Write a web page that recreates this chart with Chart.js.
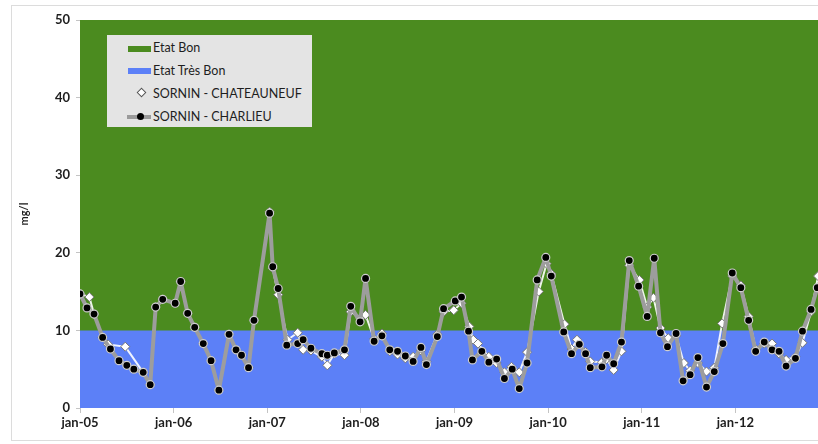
<!DOCTYPE html>
<html>
<head>
<meta charset="utf-8">
<script src="https://cdn.jsdelivr.net/npm/chart.js@4.4.1/dist/chart.umd.min.js"></script>
<style>
  body { margin: 0; background: #fff; }
  #wrap { position: relative; width: 818px; height: 444px; overflow: hidden; }
  #frame { position: absolute; left: 11px; top: 5px; width: 840px; height: 434px; border: 1px solid #dcdcdc; }
  #chart { position: absolute; left: 0; top: 0; }
  #legend { position: absolute; left: 107px; top: 35px; width: 205px; height: 92px; background: #e4e4e4;
            font-family: Lato, "Open Sans", sans-serif; font-size: 12.5px; color: #1e1e1e; }
  .item { position: absolute; left: 46px; line-height: 14px; white-space: nowrap; }
  .mk { position: absolute; }
</style>
</head>
<body>
<div id="wrap">
  <div id="frame"></div>
  <canvas id="chart" width="840" height="444"></canvas>
  <div id="legend">
    <div class="mk" style="left:21px;top:11px;width:23px;height:6px;background:#4b8b1f"></div>
    <div class="item" style="top:6px">Etat Bon</div>
    <div class="mk" style="left:21px;top:33px;width:23px;height:6px;background:#5c80f7"></div>
    <div class="item" style="top:29px">Etat Très Bon</div>
    <div class="mk" style="left:31px;top:54px;width:5px;height:5px;background:#fff;border:1px solid #555;transform:rotate(45deg)"></div>
    <div class="item" style="top:52px">SORNIN - CHATEAUNEUF</div>
    <div class="mk" style="left:20px;top:80px;width:24px;height:4px;background:#9a9a9a"></div>
    <div class="mk" style="left:30px;top:78px;width:7px;height:7px;border-radius:50%;background:#000"></div>
    <div class="item" style="top:75px">SORNIN - CHARLIEU</div>
  </div>
</div>
<script>
// x axis: months since jan-05
const tickLabels = ['jan-05', 'jan-06', 'jan-07', 'jan-08', 'jan-09', 'jan-10', 'jan-11', 'jan-12'];

// quality classes (mg/l)
const bandMonths = [0, 96];
const etatTresBon = [10, 10];
const etatBon = [50, 50];

// SORNIN - CHARLIEU
const charlieuMonths = [0, 0.9, 1.8, 2.9, 3.9, 5.0, 6.0, 6.9, 8.1, 9.0, 9.7, 10.6,
  12.2, 12.9, 13.8, 14.7, 15.8, 16.8, 17.8, 19.1, 20.0, 20.7, 21.6, 22.3,
  24.3, 24.7, 25.4, 26.5, 27.9, 28.6, 29.6, 31.0, 31.7, 32.6, 33.9, 34.7, 35.9,
  36.6, 37.7, 38.7, 39.7, 40.7, 41.7, 42.7, 43.7, 44.4, 45.8, 46.6,
  48.1, 48.9, 49.8, 50.3, 51.5, 52.4, 53.4, 54.4, 55.4, 56.3, 57.3, 58.6,
  59.7, 60.4, 62.0, 63.0, 64.0, 64.8, 65.4, 66.9, 67.5, 68.4, 69.4, 70.4,
  71.6, 72.7, 73.6, 74.4, 75.3, 76.4, 77.3, 78.2, 79.2, 80.3, 81.3, 82.4,
  83.6, 84.7, 85.7, 86.6, 87.7, 88.7, 89.6, 90.5, 91.7, 92.6, 93.7, 94.5];
const charlieuValues = [14.7, 12.9, 12.1, 9.1, 7.6, 6.1, 5.5, 5.0, 4.6, 3.0, 13.0, 14.0,
  13.5, 16.3, 12.2, 10.4, 8.3, 6.1, 2.3, 9.5, 7.5, 6.8, 5.2, 11.3,
  25.1, 18.2, 15.4, 8.1, 8.3, 8.8, 7.7, 7.0, 6.8, 7.1, 7.5, 13.1, 11.1,
  16.7, 8.6, 9.3, 7.5, 7.3, 6.7, 6.0, 7.8, 5.6, 9.2, 12.8,
  13.8, 14.3, 9.9, 6.2, 7.3, 5.9, 6.3, 3.8, 5.0, 2.5, 5.8, 16.5,
  19.4, 17.0, 9.8, 7.0, 8.2, 7.0, 5.2, 5.3, 6.8, 5.7, 8.5, 19.0,
  15.7, 11.8, 19.3, 9.7, 7.9, 9.6, 3.5, 4.3, 6.5, 2.7, 4.7, 8.3,
  17.4, 15.5, 11.3, 7.3, 8.5, 7.5, 7.3, 5.4, 6.4, 9.9, 12.7, 15.5];

// SORNIN - CHATEAUNEUF
const chateauneufMonths = [0, 1.2, 1.8, 2.9, 3.6, 5.8, 8.1, 9.0, 9.7, 10.6,
  12.2, 12.9, 13.8, 14.7, 15.8, 16.8, 17.8, 19.1, 20.0, 20.7, 21.6, 22.3,
  24.3, 24.7, 25.4, 26.6, 27.9, 28.6, 29.6, 31.0, 31.7, 32.6, 33.9, 34.7, 35.9,
  36.6, 37.7, 38.7, 39.7, 40.7, 41.7, 42.7, 43.7, 44.4, 45.8, 46.6,
  47.9, 48.9, 49.9, 50.4, 51.0, 52.4, 53.4, 54.4, 55.3, 56.3, 57.3, 58.8,
  59.8, 60.4, 62.1, 63.0, 63.7, 64.8, 65.4, 66.9, 67.5, 68.4, 69.4, 70.4,
  71.7, 72.7, 73.5, 74.4, 75.4, 76.4, 77.4, 78.2, 79.2, 80.3, 81.3, 82.3,
  83.6, 84.7, 85.7, 86.6, 87.7, 88.7, 89.6, 90.5, 91.7, 92.6, 93.7, 94.6];
const chateauneufValues = [14.7, 14.3, 12.1, 9.1, 8.2, 7.9, 4.6, 3.0, 13.0, 14.0,
  13.5, 16.3, 12.2, 10.4, 8.3, 6.1, 2.3, 9.5, 7.5, 6.8, 5.2, 11.3,
  25.3, 18.0, 14.6, 8.8, 9.7, 7.5, 7.4, 6.6, 5.5, 7.0, 6.8, 12.4, 11.6,
  12.0, 8.9, 9.6, 7.3, 6.9, 6.4, 6.6, 7.4, 6.0, 9.5, 12.4,
  12.6, 13.5, 10.5, 8.8, 8.3, 6.6, 5.8, 4.6, 5.3, 4.6, 7.2, 15.0,
  18.6, 17.3, 10.8, 7.6, 8.8, 7.2, 6.0, 5.9, 6.3, 4.9, 7.3, 18.4,
  16.5, 13.0, 14.2, 10.3, 9.0, 9.3, 5.8, 4.8, 5.8, 4.7, 5.2, 10.9,
  17.0, 15.8, 11.8, 7.6, 8.3, 8.3, 7.0, 6.2, 6.6, 8.4, 12.4, 17.0];

function pts(xs, ys) { return xs.map((x, i) => ({ x: x, y: ys[i] })); }

const tickFont = { family: 'Lato, "Open Sans", sans-serif', size: 13, weight: 'bold' };

new Chart(document.getElementById('chart'), {
  type: 'line',
  data: {
    datasets: [
      {
        label: 'SORNIN - CHARLIEU',
        data: pts(charlieuMonths, charlieuValues),
        borderColor: '#9d9d9d',
        borderWidth: 4,
        borderJoinStyle: 'round',
        pointRadius: 4,
        pointBackgroundColor: '#000',
        pointBorderColor: '#cfcfcf',
        pointBorderWidth: 1.2,
        fill: false
      },
      {
        label: 'SORNIN - CHATEAUNEUF',
        data: pts(chateauneufMonths, chateauneufValues),
        borderColor: 'rgba(255,255,255,0.9)',
        borderWidth: 2,
        borderJoinStyle: 'round',
        pointStyle: 'rectRot',
        pointRadius: 4.5,
        pointBackgroundColor: '#fff',
        pointBorderColor: '#777',
        pointBorderWidth: 1,
        fill: false
      },
      {
        label: 'Etat Très Bon',
        data: pts(bandMonths, etatTresBon),
        borderWidth: 0,
        pointRadius: 0,
        backgroundColor: '#5c80f7',
        fill: 'origin'
      },
      {
        label: 'Etat Bon',
        data: pts(bandMonths, etatBon),
        borderWidth: 0,
        pointRadius: 0,
        backgroundColor: '#4b8b1f',
        fill: 'origin'
      }
    ]
  },
  options: {
    responsive: false,
    animation: false,
    layout: { padding: { top: 20, right: 11, left: 0, bottom: 0 } },
    plugins: { legend: { display: false }, tooltip: { enabled: false } },
    scales: {
      x: {
        type: 'linear',
        min: 0,
        max: 96,
        afterFit: s => { s.height = 36; },
        ticks: {
          stepSize: 12,
          autoSkip: false,
          maxRotation: 0,
          color: '#1e1e1e',
          font: tickFont,
          padding: 2,
          callback: v => tickLabels[v / 12] || ''
        },
        grid: { drawOnChartArea: false, tickLength: 5, color: '#c4c4c4' },
        border: { display: false }
      },
      y: {
        min: 0,
        max: 50,
        afterFit: s => { s.width = 80; },
        ticks: { stepSize: 10, color: '#1e1e1e', font: tickFont, padding: 6 },
        grid: { drawOnChartArea: false, tickLength: 4, color: '#c4c4c4' },
        border: { display: false },
        title: {
          display: true,
          text: 'mg/l',
          color: '#1e1e1e',
          font: { family: 'Lato, "Open Sans", sans-serif', size: 11, weight: 'bold' },
          padding: { top: 18 }
        }
      }
    }
  }
});
</script>
</body>
</html>
